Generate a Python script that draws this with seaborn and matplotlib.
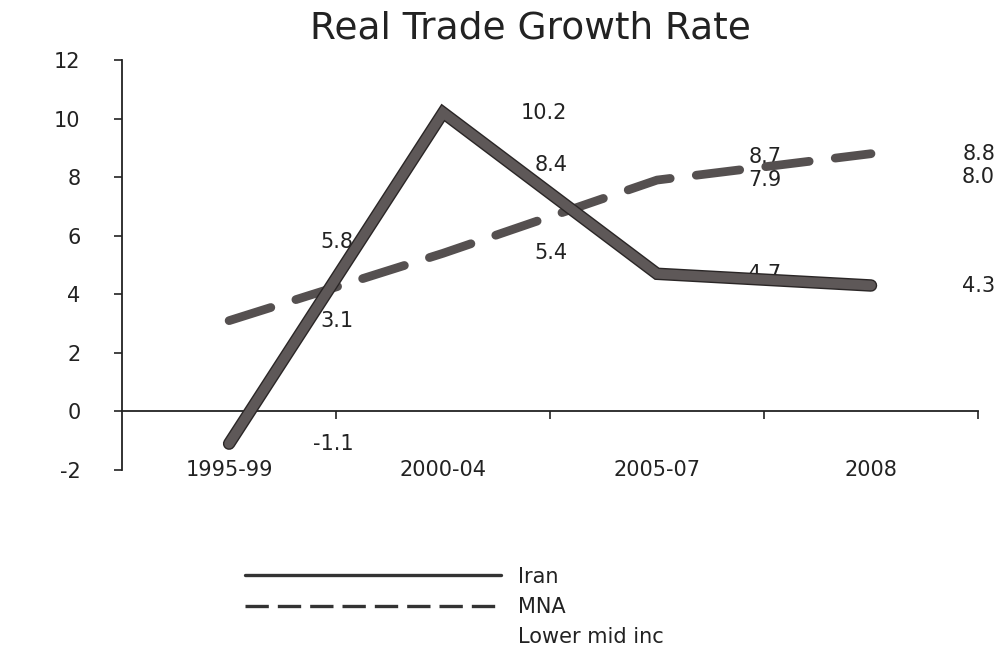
# Import
import numpy as np
import pandas as pd
import matplotlib.pyplot as plt
import matplotlib.patheffects as pe
from matplotlib.lines import Line2D
import seaborn as sns

# Dane
periods = ['1995-99', '2000-04', '2005-07', '2008']
iran = [-1.1, 10.2, 4.7, 4.3]
mna = [3.1, 5.4, 7.9, 8.8]
lower_mid = [5.8, 8.4, 8.7, 8.0]
series = ['Iran', 'MNA', 'Lower mid inc']

pos = np.arange(len(periods))
df = pd.DataFrame({'poz': np.tile(pos, 3),
                   'Seria': np.repeat(series, len(periods)),
                   'Wartosc': iran + mna + lower_mid})

sns.set_style('white')
plt.rcParams['font.family'] = ['DejaVu Sans']
plt.rcParams['axes.unicode_minus'] = False
txt = '#222222'

fig = plt.figure(figsize=(10.01, 6.57), dpi=100)
ax = fig.add_axes([0.122, 0.2846, 0.855, 0.6241])

# etykiety wartosci (pod liniami)
for s in series:
    vals = df[df['Seria'] == s]
    for x, v in zip(vals['poz'], vals['Wartosc']):
        ax.text(x + 0.58, v, f'{v:.1f}', ha='right', va='center',
                fontsize=15, color=txt, zorder=1, clip_on=False)

# MNA - przerywana
sns.lineplot(data=df[df['Seria'] == 'MNA'], x='poz', y='Wartosc', ax=ax,
             color='#555050', lw=6.3, linestyle=(0, (5.0, 3.0)),
             dash_capstyle='round', sort=False, zorder=3)

# Iran - ciagla
sns.lineplot(data=df[df['Seria'] == 'Iran'], x='poz', y='Wartosc', ax=ax,
             color='#5e5858', lw=7, solid_capstyle='round',
             solid_joinstyle='miter', sort=False, zorder=4)
ax.lines[-1].set_path_effects([pe.Stroke(linewidth=9, foreground='#2a2626'), pe.Normal()])

# osie
ax.set_xlim(-0.5, 3.5)
ax.set_ylim(-2, 12)
ax.set_xlabel('')
ax.set_ylabel('')
for sp in ['top', 'right']:
    ax.spines[sp].set_visible(False)
ax.spines['bottom'].set_position(('data', 0))
for sp in ['left', 'bottom']:
    ax.spines[sp].set_color('#222')
    ax.spines[sp].set_linewidth(1.3)

ax.set_xticks(pos + 0.5)
ax.set_xticklabels([])
ax.set_yticks(range(-2, 13, 2))
ax.tick_params(axis='x', bottom=True, direction='out', length=6, width=1.2, color='#222')
ax.tick_params(axis='y', left=True, direction='out', length=6, width=1.2, color='#222',
               pad=24, labelsize=15, labelcolor=txt)

for x, p in zip(pos, periods):
    ax.text(x, -2, p, ha='center', va='center', fontsize=15, color=txt, clip_on=False)

fig.text(0.53, 0.957, 'Real Trade Growth Rate', ha='center', va='center',
         fontsize=27, color=txt)

# legenda
handles = [Line2D([], [], color='#333', lw=2.4),
           Line2D([], [], color='#333', lw=2.4, linestyle=(0, (7, 2.7))),
           Line2D([], [], color='none')]
fig.legend(handles, series, loc='center', bbox_to_anchor=(0.454, 0.076),
           frameon=False, fontsize=15, handlelength=12.3, handletextpad=0.8,
           labelspacing=0.5, labelcolor=txt)

plt.savefig('out.png', dpi=100, facecolor='white')
